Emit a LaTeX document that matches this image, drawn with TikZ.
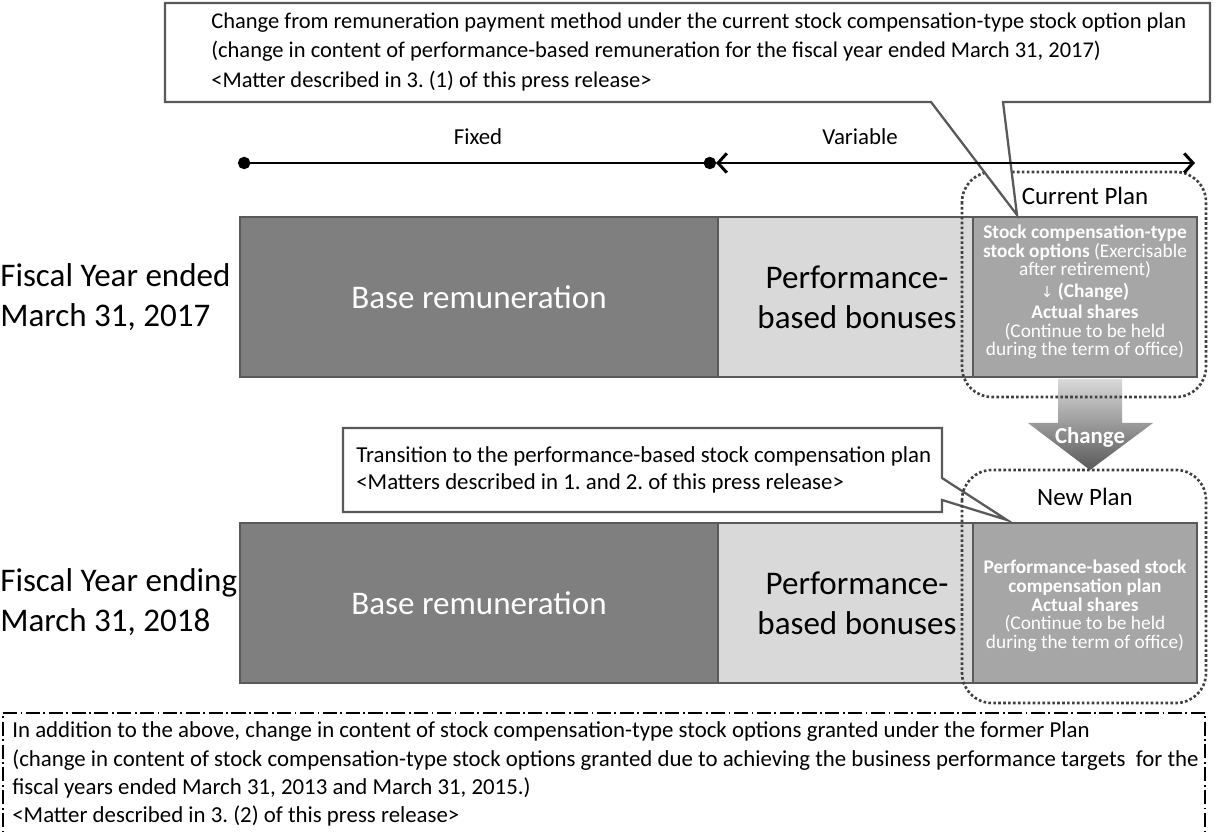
\documentclass[tikz,border=0pt]{standalone}
\usepackage{fontspec}
\setmainfont{Carlito}
\newfontfamily\arrowfont{DejaVu Sans}
\usetikzlibrary{arrows.meta,calc}
\frenchspacing

\definecolor{basegray}{HTML}{7F7F7F}
\definecolor{bonusgray}{HTML}{D9D9D9}
\definecolor{stockgray}{HTML}{A6A6A6}
\definecolor{edgegray}{HTML}{595959}
\definecolor{dotgray}{HTML}{404040}

\begin{document}
\begin{tikzpicture}[x=0.02cm, y=-0.02cm, >=Stealth,
    bar/.style={draw=edgegray, line width=1.6pt},
    plan/.style={draw=dotgray, line width=1.5pt, dash pattern=on 1.5pt off 1.3pt, rounded corners=0.6cm},
    balloon/.style={draw=edgegray, line width=1.3pt, fill=white},
    big/.style={inner sep=0pt, font=\fontsize{18.8}{22.8}\selectfont, align=center},
    small/.style={inner sep=0pt, font=\fontsize{11}{10.6}\selectfont, align=center, text=white},
    note/.style={inner sep=0pt, align=left, anchor=west},
    timeline/.style={line width=1.7pt}]
    %% Background
    \useasboundingbox (0,0) rectangle (1217,834);

    %% Row labels
    \node[big, align=left, anchor=west] (fy17) at (0,297) {Fiscal Year ended\\March 31, 2017};
    \node[big, align=left, anchor=west] (fy18) at (0,602) {Fiscal Year ending\\March 31, 2018};

    %% Bars, fiscal year ended 2017
    \draw[bar, fill=basegray] (240,217) rectangle (718,377);
    \draw[bar, fill=bonusgray] (718,217) rectangle (973,377);
    \draw[bar, fill=stockgray] (973,217) rectangle (1197,377);
    \node[big, text=white] (base17) at (479,297) {Base remuneration};
    \node[big] (bonus17) at (857,297) {Performance-\\based bonuses};
    \node[small] (stock17) at (1085,292) {\textbf{Stock compensation-type}\\\textbf{stock options} (Exercisable\\after retirement)\\[1.5pt]{\arrowfont\fontsize{8.5}{9}\selectfont ↓} \textbf{(Change)}\\[1.5pt]\textbf{Actual shares}\\(Continue to be held\\during the term of office)};

    %% Bars, fiscal year ending 2018
    \draw[bar, fill=basegray] (240,523) rectangle (718,683);
    \draw[bar, fill=bonusgray] (718,523) rectangle (973,683);
    \draw[bar, fill=stockgray] (973,523) rectangle (1197,683);
    \node[big, text=white] (base18) at (479,603) {Base remuneration};
    \node[big] (bonus18) at (857,603) {Performance-\\based bonuses};
    \node[small] (stock18) at (1085,606) {\textbf{Performance-based stock}\\\textbf{compensation plan}\\\textbf{Actual shares}\\(Continue to be held\\during the term of office)};

    %% Change arrow
    \shade[top color=bonusgray, bottom color=edgegray] (1058,379) -- (1122,379) -- (1122,423) -- (1153,423)
        -- (1090,470) -- (1028,423) -- (1058,423) -- cycle;
    \node[inner sep=0pt, text=white, font=\fontsize{13}{15}\selectfont\bfseries] (change) at (1090,437) {Change};

    %% Callout to the new plan
    \draw[balloon] (343,428) -- (942,428) -- (942,478) -- (1007,520) -- (942,500) -- (942,512)
        -- (343,512) -- cycle;
    \node[note, font=\fontsize{13}{15.4}\selectfont] (newnote) at (356,470)
        {Transition to the performance-based stock compensation plan\\<Matters described in 1. and 2. of this press release>};

    %% Plans
    \draw[plan] (962,172) rectangle (1206,397);
    \draw[plan] (962,470) rectangle (1206,703);
    \node[inner sep=0pt, font=\fontsize{14.2}{16}\selectfont] (curplan) at (1085,196) {Current Plan};
    \node[inner sep=0pt, font=\fontsize{14.2}{16}\selectfont] (newplan) at (1085,497) {New Plan};

    %% Callout to the current plan
    \draw[balloon] (165,3) -- (1210,3) -- (1210,102) -- (1003,102) -- (1017,215) -- (931,102)
        -- (165,102) -- cycle;
    \node[note, font=\fontsize{12.8}{17}\selectfont] (curnote) at (211,52)
        {Change from remuneration payment method under the current stock compensation-type stock option plan\\(change in content of performance-based remuneration for the fiscal year ended March 31, 2017)\\<Matter described in 3. (1) of this press release>};

    %% Fixed / variable
    \coordinate (fixL) at (238,163);
    \coordinate (fixR) at (716,163);
    \coordinate (varR) at (1195,163);
    \draw[timeline, {Circle[length=7pt]}-{Circle[length=7pt]}] (fixL) -- (fixR);
    \draw[timeline, {Straight Barb[length=5pt,width=11pt]}-{Straight Barb[length=5pt,width=11pt]}] (fixR) -- (varR);
    \node[inner sep=0pt, font=\fontsize{13}{15}\selectfont] (fixed) at (478,137) {Fixed};
    \node[inner sep=0pt, font=\fontsize{13}{15}\selectfont] (variable) at (860,137) {Variable};

    %% Former plan note
    \draw[line width=0.8pt, dash pattern=on 8pt off 2pt on 1pt off 2pt] (3,850) -- (3,713) -- (1205,713) -- (1205,850);
    \node[note, font=\fontsize{13}{16}\selectfont] (oldnote) at (12,774)
        {In addition to the above, change in content of stock compensation-type stock options granted under the former Plan\\(change in content of stock compensation-type stock options granted due to achieving the business performance targets\ \ for the\\fiscal years ended March 31, 2013 and March 31, 2015.)\\<Matter described in 3. (2) of this press release>};
\end{tikzpicture}
\end{document}
